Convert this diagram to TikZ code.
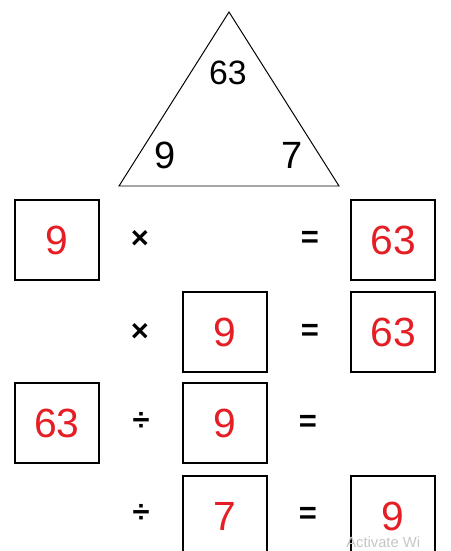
\documentclass[tikz,border=0pt]{standalone}
\usepackage{fontspec}
\setmainfont{Liberation Sans}
\usetikzlibrary{positioning}
\definecolor{numred}{RGB}{228,30,36}
\begin{document}
\begin{tikzpicture}[x=0.025cm, y=-0.025cm,
  numbox/.style={draw, line width=1.1pt, minimum width=2.1cm, minimum height=2cm, inner sep=0pt, text=numred, font=\fontsize{29}{31}\selectfont},
  opsign/.style={inner sep=0pt, font=\fontsize{22}{24}\selectfont\bfseries},
  trinum/.style={inner sep=0pt, font=\fontsize{27}{29}\selectfont}]
\useasboundingbox (0,0) rectangle (451,551);
\clip (0,0) rectangle (451,551);
% triangle
\draw[line width=0.7pt] (229,12) -- (119,186) -- (339,186) -- cycle;
\node[trinum, font=\fontsize{24}{26}\selectfont] (top) at (228,73) {63};
\node[trinum] (left) at (165,155) {9};
\node[trinum] (right) at (292,155) {7};
% row 1
\node[numbox] (a1) at (57,240) {9};
\node[opsign] (m1) at (140,239) {×};
\node[opsign] (e1) at (310,239) {=};
\node[numbox] (c1) at (393,240) {63};
% row 2
\node[opsign] (m2) at (140,332) {×};
\node[numbox] (b2) at (225,332) {9};
\node[opsign] (e2) at (310,332) {=};
\node[numbox] (c2) at (393,332) {63};
% row 3
\node[numbox] (a3) at (57,423) {63};
\node[opsign] (d3) at (141,421) {÷};
\node[numbox] (b3) at (225,423) {9};
\node[opsign] (e3) at (308,423) {=};
% row 4
\node[opsign] (d4) at (141,513) {÷};
\node[numbox] (b4) at (225,516) {7};
\node[opsign] (e4) at (308,515) {=};
\node[numbox] (c4) at (393,516) {9};
\node[anchor=west, inner sep=0pt, text=gray!45, font=\fontsize{10.5}{12}\selectfont] (mark) at (346,542) {Activate Wi};
\end{tikzpicture}
\end{document}
